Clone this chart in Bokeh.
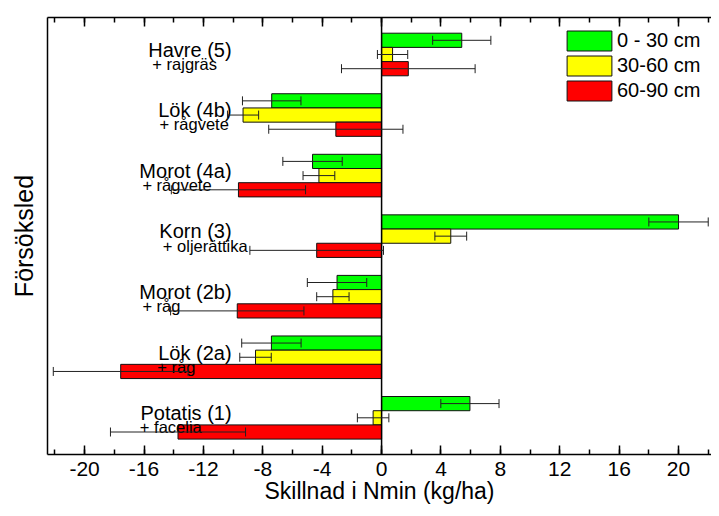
from bokeh.plotting import figure
from bokeh.models import (ColumnDataSource, Whisker, TeeHead, Span, LinearAxis,
                          SingleIntervalTicker, FixedTicker, Range1d)
from bokeh.core.properties import value
from bokeh.embed import file_html
from bokeh.resources import INLINE

# ---- data ----
groups = ["Havre (5)", "Lök (4b)", "Morot (4a)", "Korn (3)", "Morot (2b)", "Lök (2a)", "Potatis (1)"]
cover_crops = ["+ rajgräs", "+ rågvete", "+ rågvete", "+ oljerättika", "+ råg", "+ råg", "+ facelia"]
series = ["0 - 30 cm", "30-60 cm", "60-90 cm"]
d0_30 = [5.4, -7.4, -4.65, 20.0, -3.0, -7.42, 5.95]
d0_30_err = [1.96, 1.97, 2.0, 2.0, 2.0, 2.0, 1.96]
d30_60 = [0.74, -9.33, -4.22, 4.66, -3.28, -8.49, -0.57]
d30_60_err = [1.02, 1.05, 1.07, 1.07, 1.09, 1.06, 1.06]
d60_90 = [1.8, -3.08, -9.64, -4.37, -9.72, -17.57, -13.71]
d60_90_err = [4.5, 4.52, 4.52, 4.5, 4.49, 4.54, 4.55]
x_tick_values = [-20, -16, -12, -8, -4, 0, 4, 8, 12, 16, 20]
x_tick_labels = ["-20", "-16", "-12", "-8", "-4", "0", "4", "8", "12", "16", "20"]
x_label = "Skillnad i Nmin (kg/ha)"
y_label = "Försöksled"

# ---- layout / style (not data) ----
colors = ["#00FF00", "#FFFF00", "#FF0000"]
bar_h = 0.2345
offsets = [bar_h, 0.0, -bar_h]
main_label_x = -10.1
sub_label_x = [-15.44, -14.95, -16.11, -14.73, -16.11, -15.10, -16.28]
FONT = "Liberation Sans"

n = len(groups)
centers = [n - 1 - i for i in range(n)]

p = figure(width=711, height=508,
           x_range=Range1d(-22.5, 22.22), y_range=Range1d(-0.606, 6.611),
           output_backend="svg", toolbar_location=None,
           min_border_left=47, min_border_right=0, min_border_top=17, min_border_bottom=54)
p.outline_line_color = None
p.xgrid.visible = False
p.ygrid.visible = False

values_all = [d0_30, d30_60, d60_90]
errs_all = [d0_30_err, d30_60_err, d60_90_err]
for k in range(3):
    ys = [c + offsets[k] for c in centers]
    vals = values_all[k]
    errs = errs_all[k]
    src = ColumnDataSource(dict(
        y=ys, right=vals,
        lo=[v - e for v, e in zip(vals, errs)],
        hi=[v + e for v, e in zip(vals, errs)],
    ))
    p.hbar(y="y", left=0, right="right", height=bar_h, source=src,
           fill_color=colors[k], line_color="#111111", line_width=1,
           legend_label=series[k])
    w = Whisker(base="y", lower="lo", upper="hi", dimension="width", source=src,
                line_color="#222222", line_width=1, level="overlay",
                upper_head=TeeHead(size=9, line_color="#222222", line_width=1),
                lower_head=TeeHead(size=9, line_color="#222222", line_width=1))
    p.add_layout(w)

p.add_layout(Span(location=0, dimension="height", line_color="black", line_width=1.5))

# group labels
lab_src = ColumnDataSource(dict(
    x=[main_label_x] * n, y=[c + 0.078 for c in centers], t=groups))
p.text(x="x", y="y", text="t", source=lab_src, text_align="right",
       text_baseline="alphabetic", text_font=value(FONT), text_font_size="20px",
       text_color="black")
sub_src = ColumnDataSource(dict(
    x=sub_label_x, y=[c - 0.155 for c in centers], t=cover_crops))
p.text(x="x", y="y", text="t", source=sub_src, text_align="left",
       text_baseline="alphabetic", text_font=value(FONT), text_font_size="16.5px",
       text_color="black")

# axes
xa = p.xaxis[0]
xa.ticker = SingleIntervalTicker(interval=4, num_minor_ticks=2)
xa.major_label_overrides = {float(v): s for v, s in zip(x_tick_values, x_tick_labels)}
xa.major_tick_in = 9
xa.major_tick_out = 0
xa.minor_tick_in = 5
xa.minor_tick_out = 0
xa.axis_line_width = 1.5
xa.axis_line_color = "black"
xa.major_tick_line_width = 1.5
xa.minor_tick_line_width = 1.5
xa.major_tick_line_color = "black"
xa.minor_tick_line_color = "black"
xa.major_label_text_font = FONT
xa.major_label_text_font_size = "21px"
xa.major_label_text_color = "black"
xa.major_label_standoff = 7
xa.axis_label = x_label
xa.axis_label_text_font = FONT
xa.axis_label_text_font_size = "23px"
xa.axis_label_text_font_style = "normal"
xa.axis_label_text_color = "black"
xa.axis_label_standoff = -1

ya = p.yaxis[0]
ya.ticker = FixedTicker(ticks=[])
ya.axis_line_width = 1.5
ya.axis_line_color = "black"
ya.axis_label = y_label
ya.axis_label_text_font = FONT
ya.axis_label_text_font_size = "25px"
ya.axis_label_text_font_style = "normal"
ya.axis_label_text_color = "black"
ya.axis_label_standoff = 10

top = LinearAxis(ticker=SingleIntervalTicker(interval=4, num_minor_ticks=2),
                 major_tick_in=9, major_tick_out=0, minor_tick_in=5, minor_tick_out=0,
                 axis_line_width=1.5, major_tick_line_width=1.5, minor_tick_line_width=1.5,
                 axis_line_color="black", major_tick_line_color="black",
                 minor_tick_line_color="black",
                 major_label_text_font_size="1px", major_label_text_color=None,
                 major_label_standoff=0)
p.add_layout(top, "above")

# legend
lg = p.legend[0]
lg.location = (514, 351)
lg.glyph_width = 56
lg.glyph_height = 25
lg.spacing = -3
lg.padding = 0
lg.margin = 0
lg.label_standoff = 0
lg.border_line_color = None
lg.background_fill_alpha = 0
lg.label_text_font = FONT
lg.label_text_font_size = "20px"
lg.label_text_color = "black"

open("out.html", "w").write(file_html(p, INLINE))
